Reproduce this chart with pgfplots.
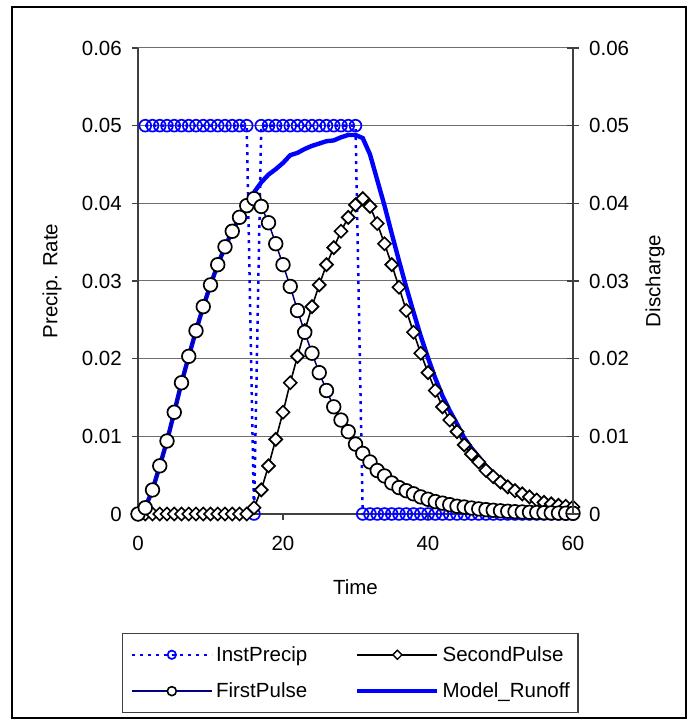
\documentclass[border=0pt]{standalone}
\usepackage{pgfplots}
\pgfplotsset{compat=1.18}
\usepackage{pgfplotstable}
\usepackage{fontspec}
\setmainfont{Liberation Sans}
\definecolor{xlblue}{RGB}{0,0,255}
\definecolor{xlnavy}{RGB}{0,0,128}
\definecolor{axgray}{RGB}{64,64,64}
\definecolor{gridgray}{RGB}{110,110,110}

\pgfplotstableread{
x fp sp ro
0 0 0 0
1 0.0008 0 0.0008
2 0.0031 0 0.0031
3 0.0062 0 0.0062
4 0.0094 0 0.0094
5 0.0131 0 0.0131
6 0.0169 0 0.0169
7 0.0203 0 0.0203
8 0.0236 0 0.0236
9 0.0267 0 0.0267
10 0.0295 0 0.0295
11 0.0321 0 0.0321
12 0.0344 0 0.0344
13 0.0364 0 0.0364
14 0.0382 0 0.0382
15 0.0397 0 0.0397
16 0.0406 0.0008 0.0414
17 0.0396 0.0031 0.0427
18 0.0375 0.0062 0.0437
19 0.0348 0.0096 0.0444
20 0.0321 0.0131 0.0452
21 0.0293 0.0169 0.0462
22 0.0262 0.0203 0.0465
23 0.0234 0.0236 0.0470
24 0.0207 0.0267 0.0474
25 0.0182 0.0295 0.0477
26 0.0159 0.0321 0.0480
27 0.0138 0.0343 0.0481
28 0.0121 0.0364 0.0485
29 0.0106 0.0382 0.0488
30 0.0090 0.0398 0.0488
31 0.0078 0.0406 0.0484
32 0.0067 0.0396 0.0463
33 0.0056 0.0374 0.0430
34 0.0049 0.0348 0.0397
35 0.0040 0.0321 0.0361
36 0.0034 0.0292 0.0326
37 0.0030 0.0262 0.0292
38 0.0026 0.0234 0.0260
39 0.0022 0.0207 0.0229
40 0.0019 0.0182 0.0201
41 0.0016 0.0159 0.0175
42 0.0014 0.0138 0.0152
43 0.0012 0.0121 0.0133
44 0.0010 0.0106 0.0116
45 0.0009 0.0089 0.0098
46 0.00077 0.0077 0.00847
47 0.00066 0.0067 0.00736
48 0.00056 0.0056 0.00616
49 0.00048 0.0048 0.00528
50 0.00041 0.0041 0.00451
51 0.00035 0.0035 0.00385
52 0.00030 0.0030 0.00330
53 0.00026 0.0026 0.00286
54 0.00022 0.0022 0.00242
55 0.00019 0.0018 0.00199
56 0.00016 0.0015 0.00166
57 0.00014 0.0013 0.00144
58 0.00012 0.0011 0.00122
59 0.00010 0.0010 0.00110
60 0.00009 0.0009 0.00099
}\datatable

\pgfplotstableread{
x p
1 0.05
2 0.05
3 0.05
4 0.05
5 0.05
6 0.05
7 0.05
8 0.05
9 0.05
10 0.05
11 0.05
12 0.05
13 0.05
14 0.05
15 0.05
16 0
17 0.05
18 0.05
19 0.05
20 0.05
21 0.05
22 0.05
23 0.05
24 0.05
25 0.05
26 0.05
27 0.05
28 0.05
29 0.05
30 0.05
31 0
32 0
33 0
34 0
35 0
36 0
37 0
38 0
39 0
40 0
41 0
42 0
43 0
44 0
45 0
46 0
47 0
48 0
49 0
50 0
51 0
52 0
53 0
54 0
55 0
56 0
57 0
58 0
59 0
60 0
}\preciptable

\begin{document}
\begin{tikzpicture}[font=\fontsize{20.5bp}{24bp}\selectfont]
\path[use as bounding box] (0,0) rectangle (688bp,720bp);
\draw[line width=2bp] (12bp,2bp) rectangle (686bp,713bp);

\begin{axis}[
  at={(138bp,206bp)}, anchor=south west,
  scale only axis, width=435bp, height=466bp,
  xmin=0, xmax=60, ymin=0, ymax=0.06,
  clip=false,
  axis x line*=bottom, axis y line*=left,
  xtick pos=bottom, ytick pos=left,
  xtick={0,20,40,60}, xticklabels={0,20,40,60},
  ytick={0,0.01,0.02,0.03,0.04,0.05,0.06},
  yticklabels={0,0.01,0.02,0.03,0.04,0.05,0.06},
  scaled y ticks=false,
  ymajorgrids, major grid style={gridgray, line width=1bp},
  axis line style={axgray, line width=1.6bp},
  tick style={axgray, line width=1.2bp},
  tick align=outside, major tick length=6bp,
  y tick label style={anchor=east, inner sep=0pt, xshift=-10bp},
  x tick label style={anchor=north, inner sep=0pt, yshift=-16bp},
  xlabel={Time},
  xlabel style={at={(rel axis cs:0.5,-0.1567)}, anchor=center, inner sep=0pt},
  ylabel={Precip. Rate},
  ylabel style={at={(rel axis cs:-0.1977,0.5)}, anchor=center, inner sep=0pt},
  legend columns=2,
  legend cell align=left,
  legend style={at={(rel axis cs:-0.0368,-0.2554)}, anchor=north west,
    draw=axgray, line width=1.2bp, inner xsep=8bp, inner ysep=13bp,
    row sep=20bp,
    nodes={inner sep=0pt},
    /tikz/every odd column/.append style={column sep=3bp},
    /tikz/every even column/.append style={column sep=48bp}},
  legend image code/.code={
    \draw[mark repeat=2,mark phase=2] plot coordinates {(0bp,0bp) (40bp,0bp) (80bp,0bp)};
  },
]
\addplot[forget plot, xlblue, line width=2.5bp, dash pattern=on 3bp off 5bp,
  mark=o, mark size=5.9bp, mark options={solid, line width=1.7bp, draw=xlblue, fill=none}]
  table[x=x, y=p] {\preciptable};
\addplot[forget plot, xlblue, line width=4.4bp] table[x=x, y=ro] {\datatable};
\addplot[forget plot, black, line width=1.6bp, mark=square*, mark size=4.6bp,
  mark options={rotate=45, draw=black, fill=white, line width=1.7bp}]
  table[x=x, y=sp] {\datatable};
\addplot[forget plot, xlnavy, line width=1.5bp, mark=*, mark size=6.8bp,
  mark options={draw=black, fill=white, line width=1.7bp}]
  table[x=x, y=fp] {\datatable};

\addlegendimage{xlblue, line width=2.5bp, dash pattern=on 3bp off 5bp,
  mark=o, mark size=4.2bp, mark options={solid, line width=1.7bp, draw=xlblue, fill=none}}
\addlegendentry{InstPrecip}
\addlegendimage{black, line width=1.5bp, mark=square*, mark size=3.2bp,
  mark options={rotate=45, draw=black, fill=white, line width=1.4bp}}
\addlegendentry{SecondPulse}
\addlegendimage{xlnavy, line width=1.5bp, mark=*, mark size=4.5bp,
  mark options={draw=black, fill=white, line width=1.6bp}}
\addlegendentry{FirstPulse}
\addlegendimage{xlblue, line width=4.4bp}
\addlegendentry{Model\_Runoff}
\end{axis}

\begin{axis}[
  at={(138bp,206bp)}, anchor=south west,
  scale only axis, width=435bp, height=466bp,
  xmin=0, xmax=60, ymin=0, ymax=0.06,
  hide x axis,
  axis y line*=right, ytick pos=right,
  ytick={0,0.01,0.02,0.03,0.04,0.05,0.06},
  yticklabels={0,0.01,0.02,0.03,0.04,0.05,0.06},
  scaled y ticks=false,
  axis line style={axgray, line width=1.6bp},
  tick style={axgray, line width=1.2bp},
  tick align=center, major tick length=12bp,
  y tick label style={anchor=west, inner sep=0pt, xshift=10bp},
  ylabel={Discharge},
  ylabel style={at={(rel axis cs:1.1885,0.5)}, anchor=center, inner sep=0pt, rotate=0},
]
\addplot[draw=none] coordinates {(0,0)};
\end{axis}
\end{tikzpicture}
\end{document}
